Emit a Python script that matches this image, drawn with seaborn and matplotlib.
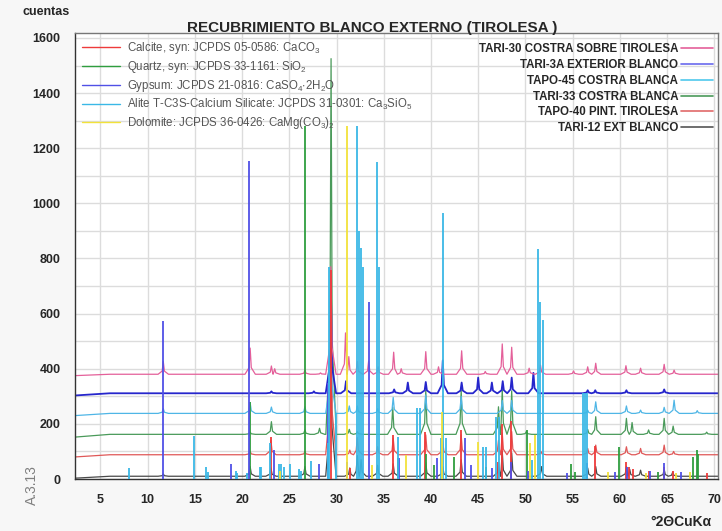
import numpy as np
import matplotlib
matplotlib.use("Agg")
import matplotlib.pyplot as plt
import seaborn as sns
from matplotlib.lines import Line2D
from matplotlib.ticker import MultipleLocator

X_MIN, X_MAX = 2.3, 70.4

# ---- reference stick patterns (2theta, counts) ----
calcite_pos = [23.06, 29.4, 31.42, 35.97, 39.4, 43.15, 47.1, 47.5, 48.5, 56.57, 57.4, 60.67, 61.0, 61.4, 63.06, 64.67, 65.6, 69.2]
calcite_h = [153, 760, 40, 160, 170, 178, 60, 200, 210, 45, 120, 63, 45, 35, 28, 45, 30, 20]

quartz_pos = [20.86, 26.64, 36.54, 39.46, 40.29, 42.45, 45.79, 50.14, 54.87, 55.3, 59.96, 64.03, 67.74, 68.14, 68.3]
quartz_h = [280, 1280, 75, 90, 50, 81, 45, 178, 54, 27, 117, 25, 81, 105, 90]

gypsum_pos = [11.6, 18.8, 20.75, 23.4, 28.1, 29.1, 31.1, 33.45, 36.6, 40.65, 43.6, 44.2, 46.5, 48.45, 50.3, 54.4, 56.5, 59.5, 60.8, 63.2, 64.7, 66.5]
gypsum_h = [575, 53, 1155, 105, 55, 350, 60, 643, 76, 76, 148, 51, 40, 60, 30, 20, 58, 27, 45, 28, 58, 25]

alite_pos = [8.0, 14.95, 16.2, 16.35, 19.3, 19.45, 20.5, 21.85, 22.0, 22.9, 23.9, 24.15, 24.4, 25.1, 26.0, 26.25,
             27.3, 29.05, 29.25, 29.95, 32.15, 32.35, 32.6, 32.85, 34.3, 34.45, 36.5, 38.5, 38.8, 41.1, 41.25,
             41.6, 45.55, 45.8, 46.9, 47.2, 50.7, 51.35, 51.6, 51.85, 56.05, 56.3, 56.55]
alite_h = [40, 157, 45, 27, 28, 20, 20, 43, 43, 129, 54, 54, 45, 55, 35, 30,
           66, 130, 770, 240, 1280, 900, 838, 770, 1150, 770, 153, 256, 256, 148, 965,
           148, 117, 117, 226, 226, 69, 833, 643, 577, 311, 311, 311]

dolomite_pos = [24.0, 31.15, 33.8, 37.4, 41.2, 44.95, 50.5, 51.05, 58.8, 62.8, 66.0, 67.4]
dolomite_h = [30, 1280, 51, 87, 244, 135, 129, 160, 27, 20, 20, 27]

# ---- measured diffractograms: baseline, start level, peak positions and peak tops ----
tari12_base, tari12_start = 10, 3
tari12_pos = [11.65, 20.85, 23.05, 26.65, 29.4, 31.4, 32.2, 32.6, 34.35, 36.0, 39.45, 41.25, 43.2, 47.15, 47.55,
              48.55, 51.7, 56.6, 57.45, 60.7, 61.05, 62.2, 64.7, 65.6]
tari12_top = [18, 45, 40, 45, 720, 40, 85, 70, 50, 55, 60, 45, 70, 60, 100,
              95, 45, 40, 45, 45, 35, 32, 35, 25]

tapo40_base, tapo40_start = 88, 80
tapo40_pos = [20.85, 23.05, 26.65, 29.4, 31.4, 32.2, 34.35, 36.0, 39.45, 41.25, 43.2, 47.15, 47.55, 48.55,
              51.65, 56.6, 57.45, 60.7, 62.2, 64.7, 65.7]
tapo40_top = [100, 140, 100, 735, 105, 150, 117, 148, 160, 135, 160, 140, 167, 172,
              100, 111, 123, 117, 111, 123, 100]

tari33_base, tari33_start = 162, 152
tari33_pos = [20.85, 23.1, 26.65, 28.2, 29.42, 31.35, 32.2, 35.95, 39.45, 43.2, 47.15, 47.55, 48.55, 50.1,
              56.6, 57.45, 60.7, 61.3, 63.05, 64.7, 65.65, 69.2]
tari33_top = [170, 208, 178, 184, 1525, 180, 172, 261, 323, 323, 262, 325, 320, 172,
              180, 226, 220, 205, 178, 220, 192, 170]

tapo45_base, tapo45_start = 238, 230
tapo45_pos = [11.65, 20.85, 23.1, 26.65, 29.4, 31.35, 32.2, 34.35, 36.0, 39.45, 43.2, 47.55, 48.55,
              56.6, 57.45, 60.7, 62.2, 64.7, 65.75, 68.2]
tapo45_top = [255, 277, 261, 262, 640, 265, 265, 255, 296, 305, 300, 285, 285,
              250, 280, 265, 250, 260, 286, 248]

tari3a_base, tari3a_start = 311, 303
tari3a_pos = [23.1, 27.6, 29.4, 31.0, 36.1, 37.55, 39.45, 41.25, 43.25, 45.0, 46.45, 47.6, 48.55, 50.85,
              56.6, 57.4, 60.7, 64.7]
tari3a_top = [318, 318, 700, 355, 325, 350, 352, 430, 350, 368, 350, 355, 368, 385,
              322, 322, 322, 325]

tari30_base, tari30_start = 380, 375
tari30_pos = [11.65, 20.85, 23.1, 23.45, 26.65, 28.3, 29.4, 30.95, 31.3, 32.2, 33.4, 34.4, 36.05, 36.85,
              39.45, 40.8, 43.25, 45.75, 47.55, 48.55, 50.4, 51.6, 55.1, 56.6, 57.45, 60.65, 62.2, 64.7, 65.75]
tari30_top = [426, 475, 410, 400, 395, 385, 770, 530, 444, 426, 428, 407, 460, 400,
              462, 407, 465, 390, 490, 478, 402, 413, 392, 407, 420, 411, 402, 416, 395]

phases = [
    ("Calcite, syn: JCPDS 05-0586: CaCO$_3$", calcite_pos, calcite_h, "#ee3b3b"),
    ("Quartz, syn: JCPDS 33-1161: SiO$_2$", quartz_pos, quartz_h, "#2f9e3f"),
    ("Gypsum: JCPDS 21-0816: CaSO$_4$$\\cdot$2H$_2$O", gypsum_pos, gypsum_h, "#5050e6"),
    ("Alite T-C3S-Calcium Silicate: JCPDS 31-0301: Ca$_3$SiO$_5$", alite_pos, alite_h, "#3ab8e6"),
    ("Dolomite: JCPDS 36-0426: CaMg(CO$_3$)$_2$", dolomite_pos, dolomite_h, "#f2e23a"),
]

samples = [
    ("TARI-30 COSTRA SOBRE TIROLESA", tari30_base, tari30_start, tari30_pos, tari30_top, "#e4609a"),
    ("TARI-3A EXTERIOR BLANCO", tari3a_base, tari3a_start, tari3a_pos, tari3a_top, "#2626cc"),
    ("TAPO-45 COSTRA BLANCA", tapo45_base, tapo45_start, tapo45_pos, tapo45_top, "#4fb6e6"),
    ("TARI-33 COSTRA BLANCA", tari33_base, tari33_start, tari33_pos, tari33_top, "#4a9a5a"),
    ("TAPO-40 PINT. TIROLESA", tapo40_base, tapo40_start, tapo40_pos, tapo40_top, "#e05858"),
    ("TARI-12 EXT BLANCO", tari12_base, tari12_start, tari12_pos, tari12_top, "#4a4a4a"),
]
legend_sample_colors = ["#e4609a", "#6a6aee", "#4fc8ec", "#4a9a5a", "#e06a6a", "#555555"]


def peak_outline(base, start, pos, top, hw=0.55):
    # polyline through the read peaks: foot - shoulder - apex - shoulder - foot
    xs, ys = [X_MIN, 6.0], [start, base]
    for i, (p, t) in enumerate(zip(pos, top)):
        left = p - hw if i == 0 else max(p - hw, (pos[i - 1] + p) / 2)
        right = p + hw if i == len(pos) - 1 else min(p + hw, (p + pos[i + 1]) / 2)
        sh = 0.25 * (t - base)
        xs += [left, p - 0.12, p, p + 0.12, right]
        ys += [base, base + sh, t, base + sh, base]
    xs.append(X_MAX)
    ys.append(base)
    return xs, ys


sns.set_style("white")
plt.rcParams['font.family'] = ['Liberation Sans', 'DejaVu Sans']
plt.rcParams['mathtext.default'] = 'regular'

fig = plt.figure(figsize=(7.22, 5.31), dpi=100, facecolor="#f7f7f7")
ax = fig.add_axes([75 / 722, 52 / 531, 643 / 722, 446 / 531])
ax.set_facecolor("white")

for name, base, start, pos, top, col in samples[::-1]:
    xs, ys = peak_outline(base, start, pos, top)
    lw = 1.3 if name.startswith("TARI-3A") else 0.9
    sns.lineplot(x=xs, y=ys, ax=ax, color=col, lw=lw, sort=False, estimator=None, zorder=2)

for name, pos, h, col in phases:
    ax.vlines(pos, 0, h, colors=col, lw=1.3, zorder=3)

ax.set_xlim(X_MIN, X_MAX)
ax.set_ylim(0, 1618)
ax.set_xticks(range(5, 71, 5))
ax.set_xticklabels([str(v) for v in range(5, 71, 5)], fontweight='bold', fontsize=9)
ax.set_yticks(range(0, 1601, 100))
ax.set_yticklabels([str(v) if v % 200 == 0 else "" for v in range(0, 1601, 100)], fontweight='bold', fontsize=9)
ax.xaxis.set_minor_locator(MultipleLocator(1))
ax.yaxis.set_minor_locator(MultipleLocator(50))
ax.tick_params(which='major', direction='out', length=7, width=1, color='#333333')
ax.tick_params(which='minor', direction='out', length=5, width=1, color='#333333')
ax.grid(True, which='major', color='#dcdcdc', lw=1.0)
ax.set_axisbelow(True)
for side in ['left', 'bottom']:
    ax.spines[side].set_color('#333333')
    ax.spines[side].set_linewidth(1.0)
for side in ['top', 'right']:
    ax.spines[side].set_color('#777777')
    ax.spines[side].set_linewidth(1.0)
ax.set_xlabel("")
ax.set_ylabel("")

# legends
ph_handles = [Line2D([], [], color=c, lw=1) for _, _, _, c in phases]
leg1 = ax.legend(ph_handles, [p[0] for p in phases], loc='upper left', frameon=False, fontsize=8.3,
                 handlelength=3.3, handletextpad=0.6, labelspacing=0.26, borderaxespad=0.3,
                 borderpad=0.3, labelcolor='#555555')
ax.add_artist(leg1)
sm_handles = [Line2D([], [], color=c, lw=1.2) for c in legend_sample_colors]
leg2 = ax.legend(sm_handles, [s[0] for s in samples], loc='upper right', frameon=False,
                 bbox_to_anchor=(0.997, 0.985), borderaxespad=0.0,
                 handlelength=2.7, handletextpad=0.3, labelspacing=0.33,
                 borderpad=0.3, markerfirst=False, prop={'weight': 'bold', 'size': 8.3})

fig.text(0.515, 0.947, "RECUBRIMIENTO BLANCO EXTERNO (TIROLESA )", ha='center', va='center',
         fontsize=11, fontweight='bold')
fig.text(0.064, 0.977, "cuentas", ha='center', va='center', fontsize=9, fontweight='bold')
fig.text(0.986, 0.017, "°2ΘCuKα", ha='right', va='center', fontsize=10, fontweight='bold')
fig.text(0.044, 0.087, "A.3.13", ha='center', va='center', rotation=90, fontsize=10, color='#808080')

fig.savefig("out.png", dpi=100, facecolor=fig.get_facecolor())
